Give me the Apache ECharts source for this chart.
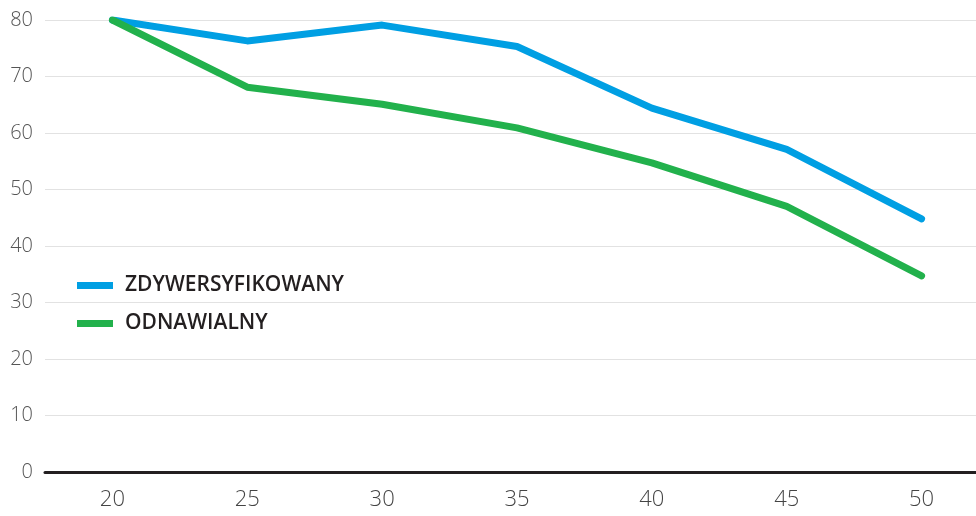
<!DOCTYPE html>
<html>
<head>
<meta charset="utf-8">
<script src="https://cdn.jsdelivr.net/npm/echarts@6/dist/echarts.min.js"></script>
<style>
  html, body { margin: 0; padding: 0; background: #ffffff; }
  #chart { width: 976px; height: 516px; }
</style>
</head>
<body>
<div id="chart"></div>
<script>
// Horizon values (x axis)
const categories = ['20', '25', '30', '35', '40', '45', '50'];
// Series values
const zdywersyfikowany = [80, 76.3, 79.1, 75.3, 64.4, 57.1, 44.8];
const odnawialny = [80, 68.1, 65.1, 60.9, 54.7, 47.0, 34.7];
// Y axis range
const yMin = 0;
const yMax = 80;
const yStep = 10;

const chart = echarts.init(document.getElementById('chart'));

const lineStyle = (color) => ({ width: 7, color: color, cap: 'round', join: 'round' });

chart.setOption({
  animation: false,
  backgroundColor: '#ffffff',
  // plot area runs a little past the right edge of the canvas
  grid: { left: 45, width: 944, top: 20, bottom: 44, containLabel: false, outerBoundsMode: 'none' },
  legend: {
    orient: 'vertical',
    left: 77,
    top: 275,
    padding: 0,
    itemWidth: 36,
    itemHeight: 7,
    itemGap: 17,
    icon: 'rect',
    textStyle: {
      fontFamily: '"Open Sans", sans-serif',
      fontWeight: 600,
      fontSize: 21,
      color: '#231f20',
      padding: [0, 0, 0, 7]
    },
    data: ['ZDYWERSYFIKOWANY', 'ODNAWIALNY']
  },
  xAxis: {
    type: 'category',
    data: categories,
    boundaryGap: true,
    axisLine: { show: true, lineStyle: { color: '#231f20', width: 3 } },
    axisTick: { show: false },
    splitLine: { show: false },
    axisLabel: {
      fontFamily: '"Open Sans", sans-serif',
      fontWeight: 300,
      fontSize: 22,
      color: '#444444',
      margin: 17
    }
  },
  yAxis: {
    type: 'value',
    min: yMin,
    max: yMax,
    interval: yStep,
    axisLine: { show: false },
    axisTick: { show: false },
    splitLine: { show: true, lineStyle: { color: '#e2e2e2', width: 1 } },
    axisLabel: {
      fontFamily: '"Open Sans", sans-serif',
      fontWeight: 300,
      fontSize: 20,
      color: '#555555',
      margin: 12
    }
  },
  series: [
    {
      name: 'ZDYWERSYFIKOWANY',
      type: 'line',
      data: zdywersyfikowany,
      symbol: 'none',
      color: '#009fe3',
      lineStyle: lineStyle('#009fe3'),
      z: 3
    },
    {
      name: 'ODNAWIALNY',
      type: 'line',
      data: odnawialny,
      symbol: 'none',
      color: '#22b14c',
      lineStyle: lineStyle('#22b14c'),
      z: 4
    }
  ]
});
</script>
</body>
</html>
